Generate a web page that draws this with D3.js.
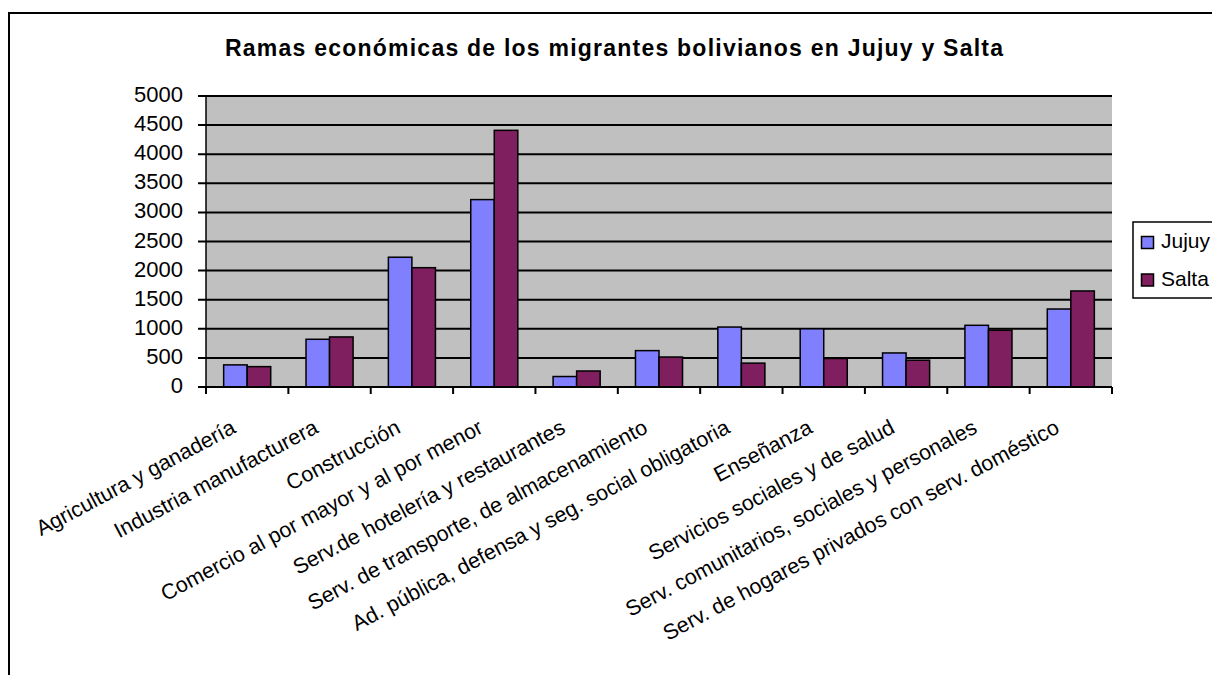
<!doctype html>
<html lang="es">
<head>
<meta charset="utf-8">
<title>Ramas económicas</title>
<script src="https://d3js.org/d3.v7.min.js"></script>
<style>
  body { margin: 0; background: #fff; }
  svg text { font-family: Arial, "Liberation Sans", sans-serif; fill: #000; }
</style>
</head>
<body>
<svg id="chart" width="1212" height="675"></svg>
<script>
const categories = [
  "Agricultura y ganadería",
  "Industria manufacturera",
  "Construcción",
  "Comercio al por mayor y al por menor",
  "Serv.de hotelería y restaurantes",
  "Serv. de transporte, de almacenamiento",
  "Ad. pública, defensa y seg. social obligatoria",
  "Enseñanza",
  "Servicios sociales y de salud",
  "Serv. comunitarios, sociales y personales",
  "Serv. de hogares privados con serv. doméstico"
];
const seriesNames = ["Jujuy", "Salta"];
const jujuy = [380, 820, 2230, 3220, 180, 625, 1030, 1000, 585, 1060, 1340];
const salta = [350, 860, 2050, 4410, 275, 515, 410, 490, 460, 975, 1650];
const yTicks = [0, 500, 1000, 1500, 2000, 2500, 3000, 3500, 4000, 4500, 5000];
const colors = ["#8080ff", "#801f60"];

const svg = d3.select("#chart");

// outer chart border (runs off right and bottom)
svg.append("rect")
  .attr("x", 9).attr("y", 13)
  .attr("width", 1300).attr("height", 800)
  .attr("fill", "none").attr("stroke", "#000").attr("stroke-width", 2);

const pLeft = 206, pRight = 1112, pTop = 96, pBottom = 387;

const x = d3.scaleBand().domain(categories).range([pLeft, pRight]).paddingInner(0).paddingOuter(0);
const x1 = d3.scaleBand().domain(seriesNames).range([0, x.bandwidth()]).paddingInner(0).paddingOuter(0.75);
const y = d3.scaleLinear().domain([0, 5000]).range([pBottom, pTop]);

// plot background
svg.append("rect")
  .attr("x", pLeft).attr("y", pTop)
  .attr("width", pRight - pLeft).attr("height", pBottom - pTop)
  .attr("fill", "#c0c0c0");

// gridlines + ticks
svg.append("g").selectAll("line")
  .data(yTicks.slice(1))
  .join("line")
  .attr("x1", pLeft - 8).attr("x2", pRight)
  .attr("y1", d => y(d)).attr("y2", d => y(d))
  .attr("stroke", "#000").attr("stroke-width", 2);

svg.append("g").selectAll("text")
  .data(yTicks)
  .join("text")
  .attr("x", 183)
  .attr("y", d => y(d) + 6)
  .attr("text-anchor", "end")
  .style("font-size", "22px")
  .text(d => d);

// bars
const rows = categories.map((c, i) => ({ cat: c, vals: [jujuy[i], salta[i]] }));
svg.append("g").selectAll("g")
  .data(rows)
  .join("g")
  .attr("transform", d => `translate(${x(d.cat)},0)`)
  .selectAll("rect")
  .data(d => d.vals.map((v, k) => ({ key: seriesNames[k], v, k })))
  .join("rect")
  .attr("x", d => x1(d.key))
  .attr("y", d => y(d.v))
  .attr("width", x1.bandwidth())
  .attr("height", d => y(0) - y(d.v))
  .attr("fill", d => colors[d.k])
  .attr("stroke", "#000").attr("stroke-width", 1.5);

// axes lines
svg.append("line")
  .attr("x1", pLeft - 8).attr("x2", pRight)
  .attr("y1", pBottom).attr("y2", pBottom)
  .attr("stroke", "#000").attr("stroke-width", 2);
svg.append("line")
  .attr("x1", pLeft).attr("x2", pLeft)
  .attr("y1", pTop).attr("y2", pBottom)
  .attr("stroke", "#000").attr("stroke-width", 1.5);

const xTickPos = categories.map(c => x(c)).concat([pRight]);
svg.append("g").selectAll("line")
  .data(xTickPos)
  .join("line")
  .attr("x1", d => d).attr("x2", d => d)
  .attr("y1", pBottom).attr("y2", pBottom + 7)
  .attr("stroke", "#000").attr("stroke-width", 2);

// category labels, rotated
svg.append("g").selectAll("text")
  .data(categories)
  .join("text")
  .attr("transform", d => `translate(${x(d) + x.bandwidth() / 2 - 10},432) rotate(-28)`)
  .attr("text-anchor", "end")
  .style("font-size", "21.5px")
  .text(d => d);

// title
svg.append("text")
  .attr("x", 614).attr("y", 56)
  .attr("text-anchor", "middle")
  .attr("textLength", 778)
  .attr("lengthAdjust", "spacing")
  .style("font-size", "23px")
  .style("font-weight", "bold")
  .text("Ramas económicas de los migrantes bolivianos en Jujuy y Salta");

// legend
const lg = svg.append("g");
lg.append("rect")
  .attr("x", 1133).attr("y", 222)
  .attr("width", 120).attr("height", 76)
  .attr("fill", "#fff").attr("stroke", "#000").attr("stroke-width", 1.5);
const items = lg.selectAll("g.item")
  .data(seriesNames)
  .join("g")
  .attr("class", "item")
  .attr("transform", (d, i) => `translate(0,${i * 37.5})`);
items.append("rect")
  .attr("x", 1141.5).attr("y", 236.5)
  .attr("width", 12).attr("height", 12)
  .attr("fill", (d, i) => colors[i])
  .attr("stroke", "#000").attr("stroke-width", 1.5);
items.append("text")
  .attr("x", 1161).attr("y", 248)
  .style("font-size", "21px")
  .text(d => d);
</script>
</body>
</html>
